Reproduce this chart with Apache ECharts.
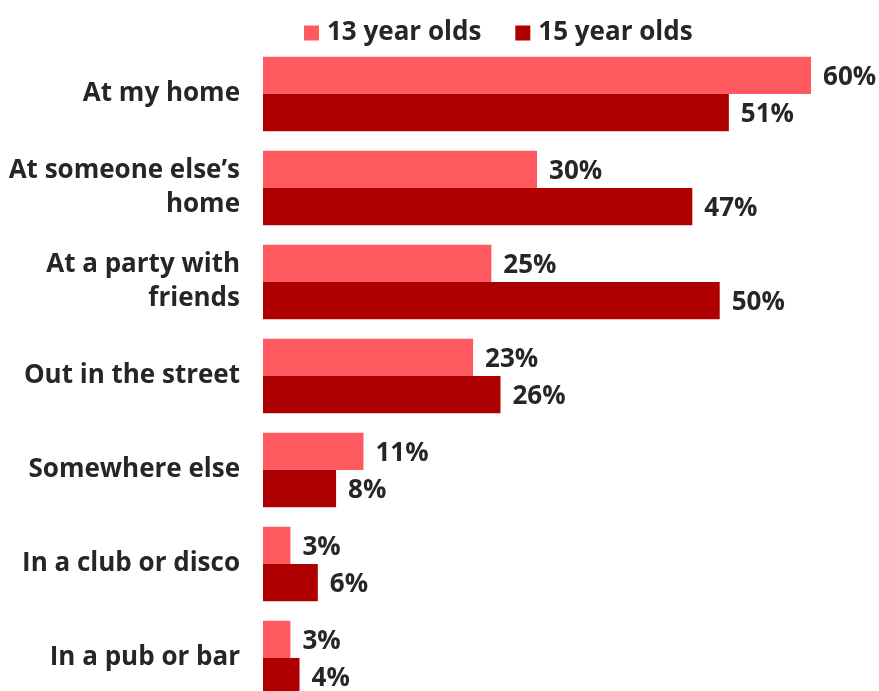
<!DOCTYPE html>
<html>
<head>
<meta charset="utf-8">
<script src="https://cdn.jsdelivr.net/npm/echarts@6/dist/echarts.min.js"></script>
<style>
  html, body { margin: 0; padding: 0; background: #fff; }
  #chart { width: 879px; height: 691px; }
</style>
</head>
<body>
<div id="chart"></div>
<script>
// Where young people drink: share of 13 and 15 year olds by location
const categories = [
  'At my home',
  'At someone else\u2019s\nhome',
  'At a party with\nfriends',
  'Out in the street',
  'Somewhere else',
  'In a club or disco',
  'In a pub or bar'
];
const seriesNames = ['13 year olds', '15 year olds'];
const age13 = [60, 30, 25, 23, 11, 3, 3];
const age15 = [51, 47, 50, 26, 8, 6, 4];

const FONT = '"Open Sans", "Noto Sans", sans-serif';
const TEXT = '#262626';
const COLORS = ['#FF5A5F', '#AE0000'];

const chart = echarts.init(document.getElementById('chart'));

const label = {
  show: true,
  position: 'right',
  distance: 12,
  offset: [0, 2],
  formatter: '{c}%',
  color: TEXT,
  fontFamily: FONT,
  fontWeight: 'bold',
  fontSize: 26
};

chart.setOption({
  animation: false,
  color: COLORS,
  legend: {
    top: 15,
    left: 299,
    itemWidth: 15,
    itemHeight: 15,
    itemGap: 34,
    icon: 'rect',
    textStyle: {
      color: TEXT,
      fontFamily: FONT,
      fontWeight: 'bold',
      fontSize: 26,
      padding: [0, 0, 0, 3]
    },
    data: seriesNames
  },
  grid: { left: 263, right: 4, top: 47, height: 658, outerBoundsMode: 'none' },
  xAxis: {
    type: 'value',
    min: 0,
    max: 67,
    show: false
  },
  yAxis: {
    type: 'category',
    inverse: true,
    data: categories,
    axisLine: { show: false },
    axisTick: { show: false },
    axisLabel: {
      margin: 23,
      color: TEXT,
      fontFamily: FONT,
      fontWeight: 'bold',
      fontSize: 26,
      lineHeight: 34,
      align: 'right'
    }
  },
  series: [
    {
      name: seriesNames[0],
      type: 'bar',
      data: age13,
      barGap: '0%',
      barCategoryGap: '21%',
      label: label
    },
    {
      name: seriesNames[1],
      type: 'bar',
      data: age15,
      label: label
    }
  ]
});
</script>
</body>
</html>
